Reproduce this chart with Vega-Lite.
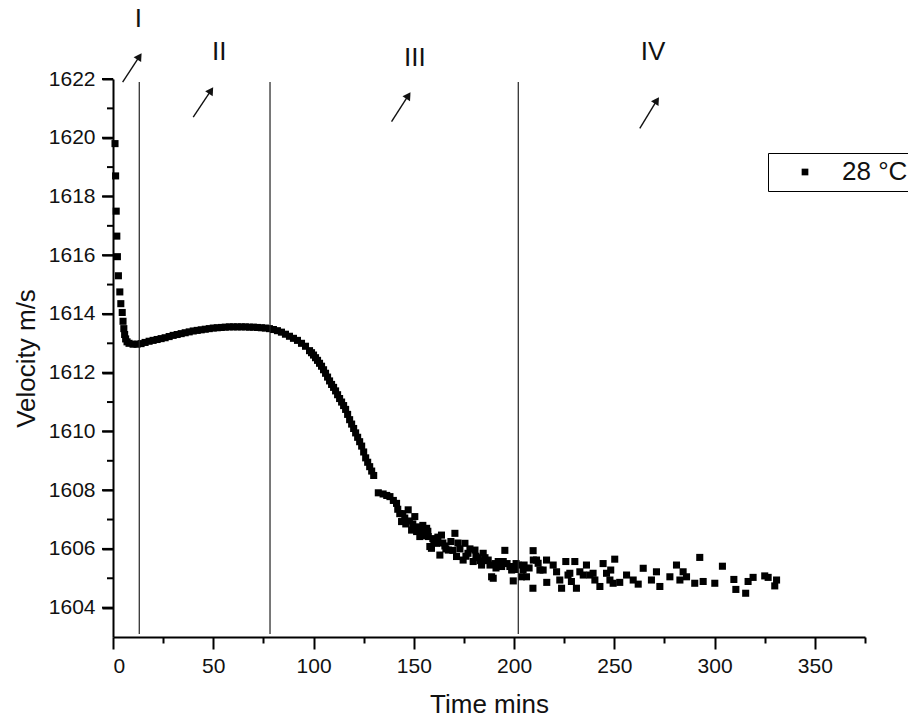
{
  "$schema": "https://vega.github.io/schema/vega-lite/v6.json",
  "width": 752,
  "height": 558,
  "autosize": {"type": "none"},
  "padding": {"left": 113, "top": 79, "right": 43, "bottom": 80},
  "background": "white",
  "config": {
    "view": {"stroke": null},
    "font": "Liberation Sans",
    "axis": {
      "grid": false,
      "domainColor": "#000",
      "domainWidth": 2,
      "tickColor": "#000",
      "tickWidth": 2,
      "labelFont": "Liberation Sans",
      "labelFontSize": 21,
      "labelColor": "#111",
      "titleFont": "Liberation Sans",
      "titleFontSize": 26,
      "titleFontWeight": "normal",
      "titleColor": "#111"
    },
    "legend": {
      "orient": "none",
      "legendX": 655,
      "legendY": 74,
      "strokeColor": "#000",
      "fillColor": "white",
      "padding": 6,
      "symbolType": "square",
      "symbolSize": 45,
      "symbolFillColor": "#000",
      "symbolStrokeWidth": 0,
      "symbolOffset": 18,
      "labelOffset": 24,
      "labelFont": "Liberation Sans",
      "labelFontSize": 26,
      "labelColor": "#111"
    }
  },
  "datasets": {
    "curve": [
      {"t":1,"v":1619.8},{"t":1.3,"v":1618.7},{"t":1.6,"v":1617.5},{"t":1.9,"v":1616.65},{"t":2.2,"v":1615.95},{"t":2.7,"v":1615.3},{"t":3.4,"v":1614.75},{"t":3.9,"v":1614.35},{"t":4.6,"v":1614.05},{"t":5,"v":1613.75},{"t":5.4,"v":1613.5},{"t":5.8,"v":1613.3},{"t":6.3,"v":1613.15},{"t":7,"v":1613.05},{"t":8,"v":1613.0},{"t":10,"v":1612.97},{"t":12,"v":1612.97},{"t":14,"v":1612.99},{"t":16,"v":1613.03},{"t":18,"v":1613.07},{"t":20,"v":1613.1},{"t":22,"v":1613.13},{"t":24,"v":1613.16},{"t":26,"v":1613.19},{"t":28,"v":1613.23},{"t":30,"v":1613.27},{"t":32,"v":1613.3},{"t":34,"v":1613.33},{"t":36,"v":1613.36},{"t":38,"v":1613.39},{"t":40,"v":1613.42},{"t":42,"v":1613.44},{"t":44,"v":1613.46},{"t":46,"v":1613.48},{"t":48,"v":1613.5},{"t":50,"v":1613.52},{"t":52,"v":1613.53},{"t":54,"v":1613.54},{"t":56,"v":1613.55},{"t":58,"v":1613.56},{"t":60,"v":1613.56},{"t":62,"v":1613.56},{"t":64,"v":1613.56},{"t":66,"v":1613.56},{"t":68,"v":1613.55},{"t":70,"v":1613.55},{"t":72,"v":1613.54},{"t":74,"v":1613.53},{"t":76,"v":1613.52},{"t":78,"v":1613.5},{"t":80,"v":1613.47},{"t":82,"v":1613.43},{"t":84,"v":1613.38},{"t":86,"v":1613.31},{"t":88,"v":1613.24},{"t":90,"v":1613.17},{"t":92,"v":1613.1},{"t":94,"v":1613.0},{"t":96,"v":1612.9},{"t":98,"v":1612.75},{"t":99,"v":1612.68},{"t":100,"v":1612.6},{"t":101,"v":1612.51},{"t":102,"v":1612.42},{"t":103,"v":1612.32},{"t":104,"v":1612.22},{"t":105,"v":1612.1},{"t":106,"v":1611.98},{"t":107,"v":1611.85},{"t":108,"v":1611.72},{"t":109,"v":1611.6},{"t":110,"v":1611.5},{"t":111,"v":1611.38},{"t":112,"v":1611.25},{"t":113,"v":1611.12},{"t":114,"v":1611.0},{"t":115,"v":1610.88},{"t":116,"v":1610.75},{"t":117,"v":1610.58},{"t":118,"v":1610.4},{"t":119,"v":1610.25},{"t":120,"v":1610.1},{"t":121,"v":1609.95},{"t":122,"v":1609.8},{"t":123,"v":1609.65},{"t":124,"v":1609.5},{"t":125,"v":1609.3},{"t":126,"v":1609.1},{"t":127,"v":1608.95},{"t":128,"v":1608.8},{"t":129,"v":1608.65},{"t":130,"v":1608.5},
      {"t":132.3,"v":1607.91},{"t":134.7,"v":1607.87},{"t":136.5,"v":1607.82},{"t":138.1,"v":1607.78},{"t":139.8,"v":1607.65},{"t":141.4,"v":1607.55},{"t":142,"v":1607.35},{"t":143,"v":1607.2},{"t":143.9,"v":1606.93},{"t":144.5,"v":1607.2},{"t":145.5,"v":1607.05},{"t":146,"v":1606.85},{"t":147.2,"v":1607.33},{"t":147.8,"v":1606.95},{"t":148.9,"v":1606.64},{"t":149.5,"v":1606.85},{"t":150.5,"v":1607.1},{"t":151.4,"v":1606.59},{"t":152,"v":1606.75},{"t":153,"v":1606.42},{"t":153.8,"v":1606.6},{"t":154.5,"v":1606.8},{"t":155.5,"v":1606.45},{"t":156.4,"v":1606.7},{"t":157,"v":1606.6},{"t":157.2,"v":1606.42},{"t":158,"v":1606.08},{"t":158.8,"v":1606.02},{"t":159.5,"v":1606.35},{"t":160,"v":1606.3},{"t":161.3,"v":1606.19},{"t":162,"v":1606.4},{"t":163,"v":1605.79},{"t":163.8,"v":1606.47},{"t":164.5,"v":1606.2},{"t":165.5,"v":1606.1},{"t":166,"v":1606.0},{"t":167.2,"v":1605.96},{"t":168.5,"v":1606.25},{"t":169.5,"v":1605.95},{"t":170.5,"v":1606.53},{"t":171.3,"v":1605.74},{"t":172,"v":1606.2},{"t":173,"v":1606.0},{"t":174.6,"v":1605.62},{"t":175.5,"v":1606.19},{"t":176,"v":1605.75},{"t":177,"v":1605.85},{"t":178,"v":1606.0},{"t":179.6,"v":1605.57},{"t":180.5,"v":1605.96},{"t":181,"v":1605.75},{"t":182,"v":1605.7},{"t":183,"v":1605.6},{"t":183.8,"v":1605.45},{"t":184.6,"v":1605.85},{"t":185.5,"v":1605.7},{"t":186,"v":1605.6},{"t":187.1,"v":1605.62},{"t":188,"v":1605.45},{"t":188.8,"v":1605.05},{"t":189.6,"v":1605.0},{"t":190.5,"v":1605.5},{"t":191,"v":1605.35},{"t":192.1,"v":1605.57},{"t":193.8,"v":1605.4},{"t":194.6,"v":1605.57},{"t":195.4,"v":1605.95},{"t":196.5,"v":1605.5},{"t":197.9,"v":1605.4},{"t":198.8,"v":1605.28},{"t":199.6,"v":1604.91},{"t":200.5,"v":1605.3},{"t":201,"v":1605.5},{"t":202,"v":1605.45},{"t":203.7,"v":1605.05},{"t":204.5,"v":1605.28},{"t":205,"v":1605.45},{"t":206.2,"v":1605.05},{"t":207.5,"v":1605.35},{"t":209.5,"v":1605.94},{"t":209.6,"v":1605.62},{"t":209.4,"v":1604.66},{"t":211.2,"v":1605.62},{"t":212,"v":1605.51},{"t":212.9,"v":1605.28},{"t":214.5,"v":1605.28},{"t":216.2,"v":1605.62},{"t":216.3,"v":1604.86},{"t":219.5,"v":1605.45},{"t":221.2,"v":1605.22},{"t":222.8,"v":1604.94},{"t":223.7,"v":1604.66},{"t":225.8,"v":1605.57},{"t":226.9,"v":1605.11},{"t":227.8,"v":1605.17},{"t":228.6,"v":1604.89},{"t":230.3,"v":1605.57},{"t":231.1,"v":1604.66},{"t":232.8,"v":1605.22},{"t":234.5,"v":1605.11},{"t":236.1,"v":1605.45},{"t":237.8,"v":1605.11},{"t":239.4,"v":1605.17},{"t":240.3,"v":1604.94},{"t":242.8,"v":1604.72},{"t":244.4,"v":1605.5},{"t":246.1,"v":1605.17},{"t":247.8,"v":1604.94},{"t":248.2,"v":1605.28},{"t":249.4,"v":1604.83},{"t":250.2,"v":1605.65},{"t":252.7,"v":1604.86},{"t":256.1,"v":1605.11},{"t":259.4,"v":1604.94},{"t":261.9,"v":1604.8},{"t":264.4,"v":1605.34},{"t":268.5,"v":1604.94},{"t":271,"v":1605.22},{"t":272.7,"v":1604.72},{"t":277.7,"v":1605.05},{"t":281,"v":1605.45},{"t":282.7,"v":1604.94},{"t":284.3,"v":1605.22},{"t":286,"v":1605.05},{"t":290.1,"v":1604.83},{"t":292.6,"v":1605.71},{"t":294.3,"v":1604.89},{"t":300.1,"v":1604.83},{"t":303.9,"v":1605.41},{"t":309.6,"v":1604.96},{"t":310.6,"v":1604.62},{"t":315.5,"v":1604.49},{"t":316.7,"v":1604.89},{"t":319.2,"v":1605.03},{"t":325,"v":1605.08},{"t":326.7,"v":1605.03},{"t":330,"v":1604.74},{"t":330.9,"v":1604.94}
    ],
    "vlines": [{"t": 13.1}, {"t": 78.3}, {"t": 202.1}],
    "yminor": [{"v": 1605}, {"v": 1607}, {"v": 1609}, {"v": 1611}, {"v": 1613}, {"v": 1615}, {"v": 1617}, {"v": 1619}, {"v": 1621}],
    "ymajor": [{"v": 1604}, {"v": 1606}, {"v": 1608}, {"v": 1610}, {"v": 1612}, {"v": 1614}, {"v": 1616}, {"v": 1618}, {"v": 1620}, {"v": 1622}],
    "arrows": [
      {"t": 4.8, "v": 1621.89, "t2": 13.2, "v2": 1622.77},
      {"t": 40.0, "v": 1620.70, "t2": 48.9, "v2": 1621.61},
      {"t": 138.9, "v": 1620.55, "t2": 147.3, "v2": 1621.44},
      {"t": 262.7, "v": 1620.32, "t2": 271.2, "v2": 1621.27}
    ],
    "labels": [
      {"t": 12.6, "v": 1624.04, "label": "I"},
      {"t": 53.0, "v": 1622.93, "label": "II"},
      {"t": 150.5, "v": 1622.7, "label": "III"},
      {"t": 269.3, "v": 1622.93, "label": "IV"}
    ]
  },
  "layer": [
    {
      "data": {"name": "curve"},
      "transform": [{"calculate": "'28 °C'", "as": "series"}],
      "mark": {"type": "point", "shape": "square", "filled": true, "size": 50, "opacity": 1},
      "encoding": {
        "x": {"field": "t", "type": "quantitative", "scale": {"domain": [0, 375], "nice": false, "zero": false},
              "axis": {"orient": "bottom", "values": [0, 25, 50, 75, 100, 125, 150, 175, 200, 225, 250, 275, 300, 325, 350, 375],
                       "labelExpr": "round(datum.value) % 50 == 0 ? datum.label : ''",
                       "tickSize": {"condition": {"test": "round(datum.value) % 50 == 0", "value": 12}, "value": 6},
                       "labelPadding": 6, "title": "Time mins", "titlePadding": 15}},
        "y": {"field": "v", "type": "quantitative", "scale": {"domain": [1603, 1622], "nice": false, "zero": false},
              "axis": {"orient": "left", "values": [1604, 1606, 1608, 1610, 1612, 1614, 1616, 1618, 1620, 1622],
                       "format": "d", "tickSize": 11,
                       "labelPadding": 7, "title": "Velocity m/s", "titlePadding": 9}},
        "color": {"field": "series", "type": "nominal", "scale": {"range": ["#000"]}, "legend": {"title": null}}
      }
    },
    {
      "data": {"name": "yminor"},
      "mark": {"type": "tick", "orient": "horizontal", "size": 6, "thickness": 2, "color": "#000", "opacity": 1},
      "encoding": {
        "x": {"datum": -1.5, "type": "quantitative", "scale": {"domain": [0, 375], "nice": false, "zero": false}},
        "y": {"field": "v", "type": "quantitative", "scale": {"domain": [1603, 1622], "nice": false, "zero": false}}
      }
    },
    {
      "data": {"name": "ymajor"},
      "mark": {"type": "tick", "orient": "horizontal", "size": 11, "thickness": 2, "color": "#000", "opacity": 1},
      "encoding": {
        "x": {"datum": -2.75, "type": "quantitative", "scale": {"domain": [0, 375], "nice": false, "zero": false}},
        "y": {"field": "v", "type": "quantitative", "scale": {"domain": [1603, 1622], "nice": false, "zero": false}}
      }
    },
    {
      "data": {"name": "vlines"},
      "mark": {"type": "rule", "color": "#222", "strokeWidth": 1.2},
      "encoding": {
        "x": {"field": "t", "type": "quantitative", "scale": {"domain": [0, 375], "nice": false, "zero": false}},
        "y": {"datum": 1621.9, "type": "quantitative", "scale": {"domain": [1603, 1622], "nice": false, "zero": false}},
        "y2": {"datum": 1603.1}
      }
    },
    {
      "data": {"name": "arrows"},
      "mark": {"type": "rule", "color": "#111", "strokeWidth": 1.4},
      "encoding": {
        "x": {"field": "t", "type": "quantitative", "scale": {"domain": [0, 375], "nice": false, "zero": false}},
        "y": {"field": "v", "type": "quantitative", "scale": {"domain": [1603, 1622], "nice": false, "zero": false}},
        "x2": {"field": "t2"},
        "y2": {"field": "v2"}
      }
    },
    {
      "data": {"name": "arrows"},
      "mark": {"type": "point", "shape": "triangle-up", "filled": true, "size": 80, "angle": 33, "color": "#111", "opacity": 1},
      "encoding": {
        "x": {"field": "t2", "type": "quantitative", "scale": {"domain": [0, 375], "nice": false, "zero": false}},
        "y": {"field": "v2", "type": "quantitative", "scale": {"domain": [1603, 1622], "nice": false, "zero": false}}
      }
    },
    {
      "data": {"name": "labels"},
      "mark": {"type": "text", "font": "Liberation Sans", "fontSize": 26, "color": "#111", "align": "center", "baseline": "middle"},
      "encoding": {
        "x": {"field": "t", "type": "quantitative", "scale": {"domain": [0, 375], "nice": false, "zero": false}},
        "y": {"field": "v", "type": "quantitative", "scale": {"domain": [1603, 1622], "nice": false, "zero": false}},
        "text": {"field": "label"}
      }
    }
  ]
}
